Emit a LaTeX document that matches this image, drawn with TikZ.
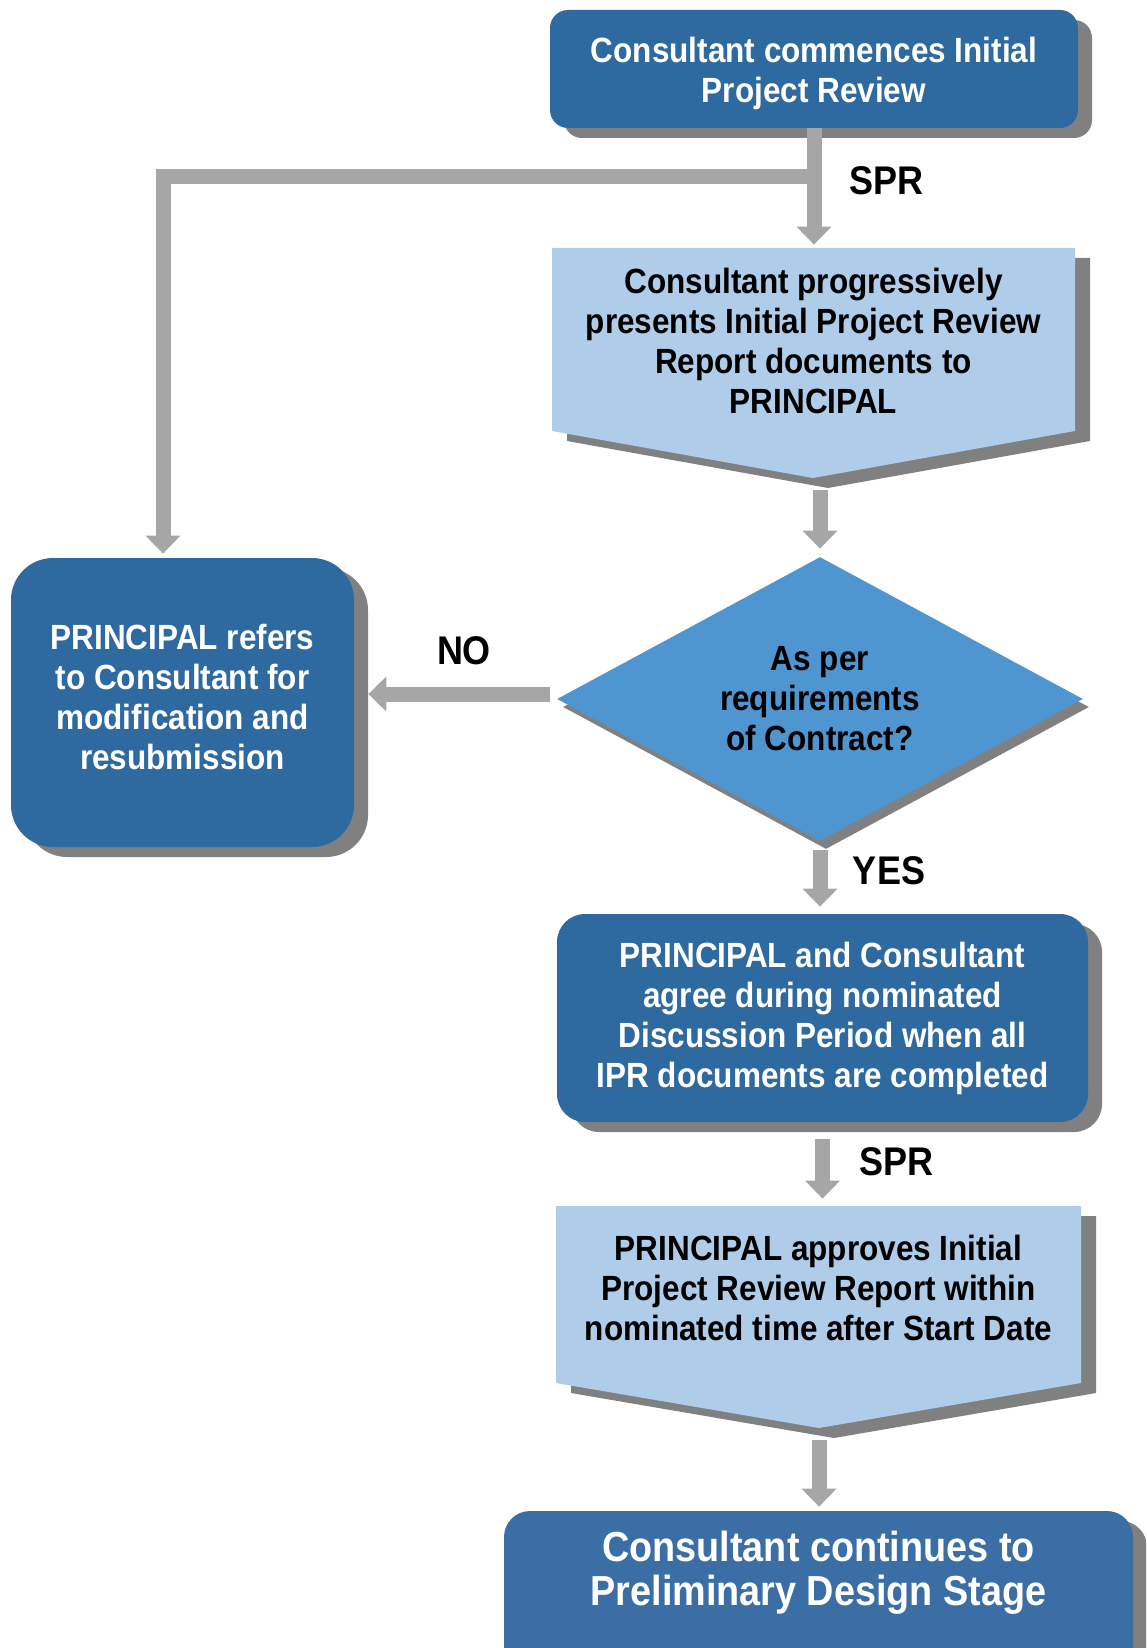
\documentclass[tikz,border=0pt]{standalone}
\usepackage{fontspec}
\setmainfont{Liberation Sans}[FakeStretch=0.9]
\usetikzlibrary{shapes.geometric,shadows,arrows.meta}
\definecolor{boxblue}{HTML}{2E6A9F}
\definecolor{endblue}{HTML}{3B6EA5}
\definecolor{askblue}{HTML}{4F96D1}
\definecolor{stepblue}{HTML}{AFCCE9}
\definecolor{pipegrey}{HTML}{A6A6A6}
\definecolor{shadowgrey}{HTML}{808080}

\begin{document}
\begin{tikzpicture}[x=0.5pt,y=-0.5pt,
    txt/.style={font=\bfseries\fontsize{17.5}{20}\selectfont,align=center,inner sep=0pt},
    darkbox/.style={txt,rectangle,fill=boxblue,text=white,
      drop shadow={shadow xshift=7pt,shadow yshift=-5pt,fill=shadowgrey,opacity=1}},
    stepbox/.style={txt,rectangle,text=black},
    tag/.style={font=\bfseries\fontsize{20}{24}\selectfont,inner sep=0pt},
    flow/.style={draw=pipegrey,line width=7.5pt,line join=miter,
      -{Triangle[length=9pt,width=17pt]}}]
        \clip (0,0) rectangle (1146,1648);

        % light blue steps, drawn as pentagons
        \fill[shadowgrey] (567,258) -- (1090,258) -- (1090,441) -- (828,488) -- (567,441) -- cycle;
        \fill[stepblue] (552,248) -- (1075,248) -- (1075,431) -- (813,478) -- (552,431) -- cycle;
        \fill[shadowgrey] (571,1216) -- (1096,1216) -- (1096,1393) -- (834,1438) -- (571,1393) -- cycle;
        \fill[stepblue] (556,1206) -- (1081,1206) -- (1081,1383) -- (819,1428) -- (556,1383) -- cycle;
        \coordinate (reviewtip) at (813,478);
        \coordinate (approvetip) at (819,1428);

        \path
        (814,69) node[darkbox,rounded corners=9pt,minimum width=264pt,minimum height=59pt](start)
          {Consultant commences Initial\\Project Review\\[-21pt]}
        (813.5,341) node[stepbox,minimum width=261.5pt,minimum height=93pt](review)
          {Consultant progressively\\presents Initial Project Review\\Report documents to\\PRINCIPAL}
        (820,699) node[txt,diamond,aspect=1.85,fill=askblue,minimum width=263pt,minimum height=142pt,
          drop shadow={shadow xshift=3pt,shadow yshift=-4pt,fill=shadowgrey,opacity=1}](check)
          {As per\\requirements\\of Contract?}
        (182.5,702.5) node[darkbox,rounded corners=21pt,minimum width=171.5pt,minimum height=144.5pt](refer)
          {PRINCIPAL refers\\to Consultant for\\modification and\\resubmission\\[-14pt]}
        (822.5,1018) node[darkbox,rounded corners=14pt,minimum width=265.5pt,minimum height=104pt](agree)
          {PRINCIPAL and Consultant\\agree during nominated\\Discussion Period when all\\IPR documents are completed}
        (818.5,1288) node[stepbox,minimum width=262.5pt,minimum height=82pt](approve)
          {PRINCIPAL approves Initial\\Project Review Report within\\nominated time after Start Date}
        (818.5,1611) node[darkbox,fill=endblue,rounded corners=13pt,minimum width=314.5pt,minimum height=100pt](finish) {}
        (818.5,1573) node[txt,text=white,font=\bfseries\fontsize{21}{22}\selectfont](finishtext)
          {Consultant continues to\\Preliminary Design Stage}
        ;

        \path (start.south) ++(0,48) coordinate(split);
        \draw[flow,shorten >=1.5pt] (start.south) -- (start.south |- review.north);
        \draw[flow,shorten >=2pt] (split) -| ([xshift=-9.75pt]refer.north);
        \draw[flow,shorten <=6pt,shorten >=4pt] (check.north |- reviewtip) -- (check.north);
        \draw[flow,shorten <=3.5pt,shorten >=7pt] ([yshift=2.5pt]check.west) -- ([yshift=2.5pt]check.west -| refer.east);
        \draw[flow,shorten <=4.5pt,shorten >=3.5pt] (check.south) -- (check.south |- agree.north);
        \draw[flow,shorten <=8.5pt,shorten >=3.5pt] (agree.south) -- (agree.south |- approve.north);
        \draw[flow,shorten <=6pt,shorten >=2pt] (approvetip) -- (approvetip |- finish.north);

        \node[tag] (sprone) at (886,181) {SPR};
        \node[tag] (no) at (464,651) {NO};
        \node[tag] (yes) at (889,871) {YES};
        \node[tag] (sprtwo) at (896,1162) {SPR};
\end{tikzpicture}
\end{document}
